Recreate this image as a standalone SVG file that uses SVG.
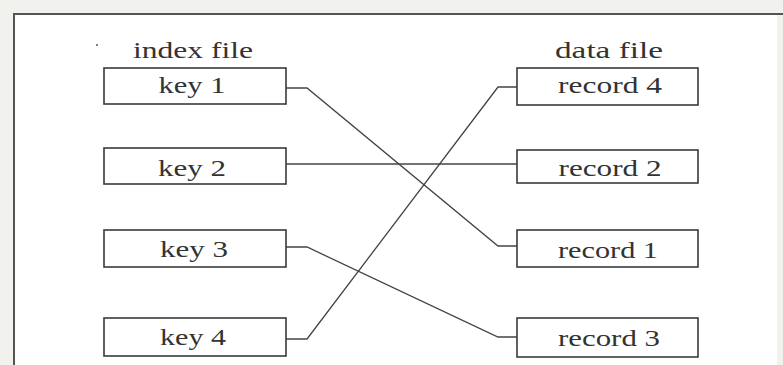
<svg xmlns="http://www.w3.org/2000/svg" width="783" height="365" viewBox="0 0 783 365">
<style>
.box{fill:#fff;stroke:#3a3a3a;stroke-width:1.6}
.lbl{font-family:"Liberation Serif","DejaVu Serif",serif;font-size:23px;fill:#333;text-anchor:middle}
.con{fill:none;stroke:#444;stroke-width:1.3}
</style>
<rect x="0" y="0" width="783" height="365" fill="#f1f1ee"/>
<rect x="14" y="14" width="765" height="351" fill="#fff"/>
<path d="M14,365 V14 H783" fill="none" stroke="#555" stroke-width="2"/>
<line x1="778" y1="15" x2="778" y2="365" stroke="#e4e4e0" stroke-width="1"/>
<circle cx="97" cy="45" r="1" fill="#555"/>
<text class="lbl" x="193" y="58" textLength="120" lengthAdjust="spacingAndGlyphs">index file</text>
<text class="lbl" x="609" y="58" textLength="108" lengthAdjust="spacingAndGlyphs">data file</text>
<g id="connectors">
<path class="con" d="M286,88 H307 L498,246 H517"/>
<path class="con" d="M286,164 H517"/>
<path class="con" d="M286,247 H307 L498,337 H517"/>
<path class="con" d="M286,339 H307 L498,87 H517"/>
</g>
<g id="key1"><rect class="box" x="104" y="68" width="182" height="36"/><text class="lbl" x="192" y="93" textLength="67" lengthAdjust="spacingAndGlyphs">key 1</text></g>
<g id="key2"><rect class="box" x="104" y="148" width="182" height="36"/><text class="lbl" x="192" y="176" textLength="68" lengthAdjust="spacingAndGlyphs">key 2</text></g>
<g id="key3"><rect class="box" x="104" y="230" width="182" height="37"/><text class="lbl" x="194" y="257" textLength="68" lengthAdjust="spacingAndGlyphs">key 3</text></g>
<g id="key4"><rect class="box" x="104" y="318" width="182" height="38"/><text class="lbl" x="193" y="345" textLength="66" lengthAdjust="spacingAndGlyphs">key 4</text></g>
<g id="record4"><rect class="box" x="517" y="68" width="181" height="37"/><text class="lbl" x="610" y="93" textLength="104" lengthAdjust="spacingAndGlyphs">record 4</text></g>
<g id="record2"><rect class="box" x="517" y="150" width="181" height="33"/><text class="lbl" x="610" y="176" textLength="103" lengthAdjust="spacingAndGlyphs">record 2</text></g>
<g id="record1"><rect class="box" x="517" y="230" width="181" height="37"/><text class="lbl" x="608" y="258" textLength="100" lengthAdjust="spacingAndGlyphs">record 1</text></g>
<g id="record3"><rect class="box" x="517" y="318" width="181" height="39"/><text class="lbl" x="609" y="346" textLength="102" lengthAdjust="spacingAndGlyphs">record 3</text></g>
</svg>
